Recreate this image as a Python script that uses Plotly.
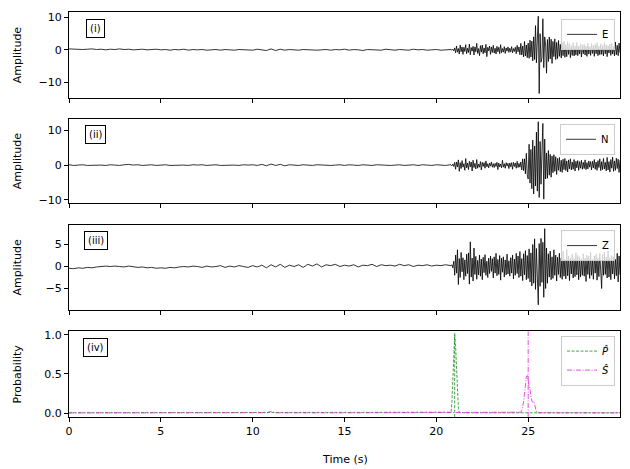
import numpy as np
import plotly.graph_objects as go
from plotly.subplots import make_subplots

# ---------------- data ----------------
slow_step = 0.25      # quiet part: 0 .. 20.75 s
fast_start = 20.8     # active part: 20.8 .. 30.0 s
fast_step = 0.05

e_slow = [0.3, 0.2, 0.3, 0.1, 0.2, 0.3, 0.1, 0.2, 0.0, 0.2, 0.1, 0.3, 0.1, 0.2, 0.0, 0.1, 0.2, 0.0, 0.1, 0.2,
          0.0, 0.1, -0.1, 0.1, 0.0, 0.2, -0.1, 0.1, 0.0, 0.1, -0.1, 0.0, 0.1, -0.1, 0.1, 0.0, -0.1, 0.1, 0.0, 0.1,
          -0.1, 0.2, 0.0, -0.2, 0.3, -0.2, 0.2, -0.1, 0.1, 0.0, -0.1, 0.1, 0.0, 0.1, -0.1, 0.0, 0.1, -0.1, 0.1, 0.0,
          0.2, -0.1, 0.1, 0.0, -0.2, 0.1, 0.0, 0.1, -0.1, 0.2, 0.0, -0.1, 0.1, 0.0, -0.1, 0.2, 0.0, 0.1, -0.1, 0.0,
          0.1, -0.1, 0.0, 0.1]
e_fast = [0.1, -0.1, 0.2, -0.3, 0.6,
          -0.9, 1.2, -0.7, 0.4, -1.3, 1.5, -0.6, 0.9, -1.4, 0.8, -0.5, 1.6, -1.2, 0.5, -0.8, 1.8, -1.5, 0.7, -0.4, 1.1,
          -1.6, 0.9, -0.6, 2.0, -1.1, 0.4, -1.8, 1.3, -0.7, 1.5, -1.2, 0.6, -0.9, 1.7, -2.1, 0.8, -0.3, 1.2, -1.4, 0.9,
          -0.8, 1.4, -1.0, 0.5, -1.3, 1.1, -0.6, 0.8, -1.2, 1.6, -0.9, 0.4, -0.7, 1.0, -1.1, 0.6, -0.4, 0.9, -0.8, 0.5,
          -0.6, 1.0, -0.9, 0.4, -0.5, 0.8, -1.2, 1.4, -0.6, 0.9, -1.5, 2.0, -1.6, 1.2, -2.2, 2.6, -1.9, 1.5, -2.4, 2.1,
          -2.6, 3.0, -2.2, 2.7, -3.4, 4.0, -3.0, 7.5, -4.0, 3.2, 10.4, -13.5, 5.0, -3.8, -2.5, 9.6, -5.5, 4.0, 1.5, -7.2,
          3.2, -3.6, 4.0, -2.8, 3.3, -4.2, 2.6, -2.1, 3.4, -3.0, 2.3, -2.7, 2.9, -2.0, 1.7, -2.5, 2.2, -1.8, 2.7, -2.3,
          1.6, -2.1, 2.5, -1.4, 1.9, -2.4, 1.3, -1.7, 2.2, -1.9, 1.2, -1.6, 2.3, -1.8, 1.1, -1.3, 1.9, -2.2, 1.5, -1.2,
          1.8, -1.6, 1.2, -2.0, 2.1, -1.3, 1.0, -1.7, 1.9, -1.1, 1.4, -2.0, 1.7, -1.2, 2.2, -1.8, 1.2, -1.5, 1.9, -1.4,
          1.3, -1.9, 2.3, -1.2, 1.6, -2.1, 1.3, -1.0, 1.8, -1.7, 2.0, -1.3, 1.1, -1.9, 2.4, -1.5, 1.4, -1.8, 2.1, -0.9]

n_slow = [0.1, -0.1, 0.0, 0.1, -0.1, 0.0, 0.1, 0.0, -0.1, 0.1, 0.0, -0.1, 0.1, 0.2, 0.0, 0.1, -0.1, 0.0, 0.1, -0.1,
          0.0, 0.1, -0.1, 0.0, 0.1, 0.0, -0.1, 0.1, 0.0, 0.1, -0.1, 0.0, 0.1, -0.1, 0.0, 0.1, 0.0, -0.1, 0.1, 0.0,
          0.1, -0.1, 0.2, -0.2, 0.3, -0.1, 0.2, -0.2, 0.1, 0.0, -0.1, 0.1, 0.0, -0.1, 0.1, 0.0, 0.1, -0.1, 0.0, 0.1,
          -0.1, 0.1, 0.0, -0.1, 0.1, 0.0, -0.1, 0.1, 0.0, 0.1, -0.1, 0.0, 0.1, -0.1, 0.0, 0.1, -0.1, 0.1, 0.0, -0.1,
          0.1, 0.0, -0.1, 0.1]
n_fast = [0.1, -0.2, 0.3, -0.4, 0.8,
          -1.2, 0.9, -0.5, 1.5, -1.8, 0.7, -1.0, 1.3, -0.6, 0.4, -1.5, 1.9, -0.8, 0.6, -1.3, 1.1, -0.5, 0.9, -1.7, 1.4,
          -0.7, 0.5, -1.1, 1.6, -0.9, 0.3, -0.6, 1.0, -1.4, 0.8, -0.4, 0.7, -0.9, 1.2, -0.5, 0.4, -0.8, 0.6, -0.3, 0.9,
          -0.6, 0.4, -0.7, 0.5, -0.4, 0.8, -1.3, 0.6, -0.5, 0.3, -0.8, 1.4, -0.6, 0.4, -0.9, 0.7, -0.3, 0.5, -1.0, 0.6,
          -0.5, 0.7, -1.2, 0.8, -0.4, 0.6, -0.9, 1.1, -0.7, 0.5, -0.6, 0.9, -1.4, 1.8, -1.6, 1.8, -2.5, 3.4, -2.8, -4.0,
          6.0, -5.2, 4.5, -6.8, 7.2, -8.3, 5.5, -6.0, 9.5, -7.5, 12.5, -9.3, 6.8, -5.5, 4.0, 12.0, -9.8, 7.5, -4.0, 3.5,
          -3.8, 4.2, -2.9, 3.1, -3.5, 2.6, -2.2, 3.0, -1.8, 2.4, -2.7, 1.9, -1.5, 2.2, -1.9, 1.4, -2.1, 1.7, -1.3, 1.9,
          -1.6, 1.2, -2.0, 1.5, -1.1, 1.8, -1.4, 0.9, -1.2, 1.6, -1.7, 1.1, -0.8, 1.3, -1.5, 1.0, -0.9, 1.4, -1.2, 0.8,
          -1.0, 1.5, -1.3, 0.7, -1.1, 1.2, -0.6, 1.0, -1.4, 1.1, -0.8, 1.6, -1.2, 0.9, -1.5, 1.3, -0.7, 1.8, -1.6, 1.0,
          -1.3, 1.9, -1.1, 0.8, -1.7, 2.2, -1.4, 1.0, -2.0, 1.6, -0.9, 2.3, -1.8, 1.2, -1.5, 2.0, -1.0, 1.7, -2.1, 1.4]

z_slow = [-0.4, -0.5, -0.3, -0.4, -0.2, -0.3, -0.1, 0.0, 0.1, 0.0, 0.1, 0.0, -0.1, 0.1, 0.0, -0.2, -0.1, -0.3, -0.2, -0.4,
          -0.3, -0.4, -0.2, -0.3, -0.1, 0.0, -0.1, 0.1, 0.0, -0.2, 0.1, -0.1, 0.0, 0.2, -0.2, 0.1, -0.1, 0.2, 0.0, -0.2,
          0.2, -0.1, 0.3, -0.3, 0.4, -0.1, 0.5, -0.2, 0.3, 0.0, 0.4, -0.2, 0.5, 0.1, 0.6, -0.1, 0.4, 0.2, 0.5, 0.0,
          0.3, 0.1, 0.4, -0.1, 0.3, 0.2, 0.5, 0.0, 0.4, 0.2, 0.3, 0.1, 0.5, 0.2, 0.4, 0.0, 0.3, 0.2, 0.4, 0.1,
          0.3, 0.2, 0.4, 0.1]
z_fast = [0.2, 0.4, -0.3, 1.2, -2.0,
          2.6, -1.5, 3.8, -4.1, 1.8, -2.5, 3.2, -1.2, 2.0, -3.0, 1.5, -2.2, 2.8, -1.6, 3.1, -4.0, 5.6, -2.4, 1.9, -3.3,
          4.2, -1.8, 2.3, -2.9, 1.4, -1.9, 2.6, -2.2, 1.7, -3.0, 2.1, -1.4, 2.7, -2.0, 1.2, -2.5, 1.9, -1.6, 2.4, -1.1,
          1.8, -2.6, 2.2, -1.5, 3.0, -2.1, 1.6, -1.8, 2.5, -3.1, 1.9, -1.3, 2.2, -2.4, 1.5, -1.9, 2.8, -1.7, 1.3, -2.2,
          2.0, -1.5, 2.6, -2.8, 1.7, -2.0, 3.0, -1.6, 2.4, -2.5, 3.4, -2.2, 1.8, -3.2, 2.9, -1.9, 3.6, -3.0, 2.5, -2.7,
          4.0, -3.5, 3.1, -4.4, 5.0, -3.8, 6.3, -5.2, 4.1, -6.0, -8.7, 5.2, -4.5, 6.4, -3.6, 5.5, -7.0, 8.6, -5.0, 4.2,
          -3.8, 2.9, -2.4, 3.5, -3.0, 2.2, -2.7, 3.8, -2.0, 2.6, -3.3, 2.1, -1.8, 3.0, -2.5, 1.9, -2.9, 3.4, -2.2, 1.6,
          -2.8, 3.9, -2.1, 2.4, -3.2, 2.0, -1.7, 2.8, -2.6, 1.8, -2.3, 3.1, -1.9, 2.5, -3.0, 2.2, -2.4, 1.7, -2.0, 2.9,
          -2.2, 1.9, -3.4, 2.6, -1.8, 2.3, -2.7, 3.2, -2.0, 1.6, -2.9, 2.4, -1.5, 2.8, -3.1, 2.0, -2.3, 3.0, -2.6, -5.0,
          2.7, -2.0, 3.3, -1.8, 2.1, -2.6, 3.6, -2.4, 1.9, -3.0, 2.5, -1.7, 2.2, -2.8, 1.6, -2.1, 3.0, -3.5, 2.4, -1.9]

prob_time = [0.0, 5.0, 10.0, 10.8, 10.95, 11.1, 11.3, 15.0, 20.0, 20.75,
             20.8, 20.85, 20.9, 20.95, 21.0, 21.05, 21.1, 21.15, 21.2, 21.25, 21.3,
             24.55, 24.6, 24.65, 24.7, 24.75, 24.8, 24.85, 24.9, 24.95, 25.0,
             25.05, 25.1, 25.15, 25.2, 25.25, 25.3, 25.35, 25.4, 25.45, 25.5,
             26.0, 28.0, 30.0]
p_prob = [0.003, 0.003, 0.003, 0.003, 0.004, 0.003, 0.003, 0.003, 0.003, 0.004,
          0.01, 0.15, 0.45, 0.8, 1.0, 0.85, 0.55, 0.25, 0.06, 0.01, 0.003,
          0.003, 0.003, 0.003, 0.003, 0.003, 0.003, 0.003, 0.003, 0.003, 0.003,
          0.003, 0.003, 0.003, 0.003, 0.003, 0.003, 0.003, 0.003, 0.003, 0.003,
          0.003, 0.003, 0.003]
s_prob = [0.002, 0.002, 0.002, 0.004, 0.02, 0.008, 0.002, 0.002, 0.002, 0.002,
          0.002, 0.002, 0.002, 0.002, 0.002, 0.002, 0.002, 0.002, 0.002, 0.002, 0.002,
          0.004, 0.01, 0.03, 0.07, 0.14, 0.25, 0.37, 0.46, 0.48, 0.43,
          0.36, 0.3, 0.22, 0.15, 0.14, 0.15, 0.11, 0.05, 0.015, 0.003,
          0.002, 0.002, 0.002]
p_pick = 21.0
s_pick = 25.0

component_names = ["E", "N", "Z"]
panel_labels = ["(i)", "(ii)", "(iii)", "(iv)"]
x_ticks = [0, 5, 10, 15, 20, 25]

# ---------------- figure ----------------
t_slow = np.arange(len(e_slow)) * slow_step
t_fast = fast_start + np.arange(len(e_fast)) * fast_step
t_all = np.round(np.concatenate([t_slow, t_fast]), 3)

traces = [e_slow + e_fast, n_slow + n_fast, z_slow + z_fast]

fig = make_subplots(rows=4, cols=1, shared_xaxes=True)
font = "DejaVu Sans"
p_color = "#1a8c1a"
s_color = "#e020e0"
p_dash = "3px,1.5px"
s_dash = "5px,1.5px,1px,1.5px"

legend_names = ["legend", "legend2", "legend3", "legend4"]
for i, (name, vals) in enumerate(zip(component_names, traces)):
    fig.add_trace(go.Scatter(x=t_all, y=vals, mode="lines", name=name,
                             line=dict(color="black", width=0.8),
                             legend=legend_names[i]), row=i + 1, col=1)

fig.add_trace(go.Scatter(x=prob_time, y=p_prob, mode="lines", name="<i>P\u0302</i>",
                         line=dict(color=p_color, width=0.8, dash=p_dash),
                         legend="legend4"), row=4, col=1)
fig.add_trace(go.Scatter(x=prob_time, y=s_prob, mode="lines", name="<i>S\u0302</i>",
                         line=dict(color=s_color, width=0.8, dash=s_dash),
                         legend="legend4"), row=4, col=1)
fig.add_vline(x=p_pick, line=dict(color=p_color, width=0.8, dash=p_dash), row=4, col=1)
fig.add_vline(x=s_pick, line=dict(color=s_color, width=0.8, dash=s_dash), row=4, col=1)

domains = [[0.7875, 1.0], [0.5277, 0.736], [0.264, 0.4748], [0.0, 0.2115]]
y_ranges = [[-14.9, 11.7], [-11.0, 13.3], [-9.9, 9.5], [-0.051, 1.046]]
y_ticks = [[-10, 0, 10], [-10, 0, 10], [-5, 0, 5], [0.0, 0.5, 1.0]]
y_titles = ["Amplitude", "Amplitude", "Amplitude", "Probability"]
legend_tops = [0.983, 0.724, 0.4615, 0.201]

axis_common = dict(showline=True, linecolor="black", linewidth=1, mirror=True,
                   ticks="outside", ticklen=4, tickcolor="black", tickwidth=1,
                   showgrid=False, zeroline=False,
                   tickfont=dict(family=font, size=11, color="black"))

for i in range(4):
    r = i + 1
    fig.update_yaxes(domain=domains[i], range=y_ranges[i], tickvals=y_ticks[i],
                     tickformat=".1f" if i == 3 else "d", row=r, col=1, **axis_common)
    fig.update_xaxes(range=[0, 30], tickvals=x_ticks, showticklabels=(i == 3),
                     row=r, col=1, **axis_common)
    fig.add_annotation(text=y_titles[i], xref="paper", yref="paper",
                       x=-0.094, y=(domains[i][0] + domains[i][1]) / 2,
                       textangle=-90, showarrow=False, xanchor="center", yanchor="middle",
                       font=dict(family=font, size=11, color="black"))
    suffix = "" if i == 0 else str(r)
    fig.add_annotation(text=panel_labels[i], xref=f"x{suffix} domain", yref=f"y{suffix} domain",
                       x=0.049, y=0.81, showarrow=False, xanchor="center", yanchor="middle",
                       bordercolor="black", borderwidth=1, borderpad=3, bgcolor="white",
                       font=dict(family=font, size=10, color="black"))

fig.add_annotation(text="Time (s)", xref="paper", yref="paper", x=0.5, y=-0.085,
                   showarrow=False, xanchor="center", yanchor="top",
                   font=dict(family=font, size=11, color="black"))

legend_style = dict(xanchor="right", yanchor="top", x=0.991,
                    bgcolor="rgba(255,255,255,0.8)", bordercolor="#cccccc", borderwidth=1,
                    font=dict(family=font, size=10, color="black"), itemwidth=30,
                    tracegroupgap=0)
fig.update_layout(
    width=630, height=469,
    margin=dict(l=69, r=10, t=9, b=52),
    paper_bgcolor="white", plot_bgcolor="white",
    font=dict(family=font, size=11, color="black"),
    showlegend=True,
    legend=dict(y=legend_tops[0], **legend_style),
    legend2=dict(y=legend_tops[1], **legend_style),
    legend3=dict(y=legend_tops[2], **legend_style),
    legend4=dict(y=legend_tops[3], **legend_style),
)

fig.write_html("out.html", config={"displayModeBar": False},
               post_script="document.body.style.margin='0';document.body.style.overflow='hidden';")
